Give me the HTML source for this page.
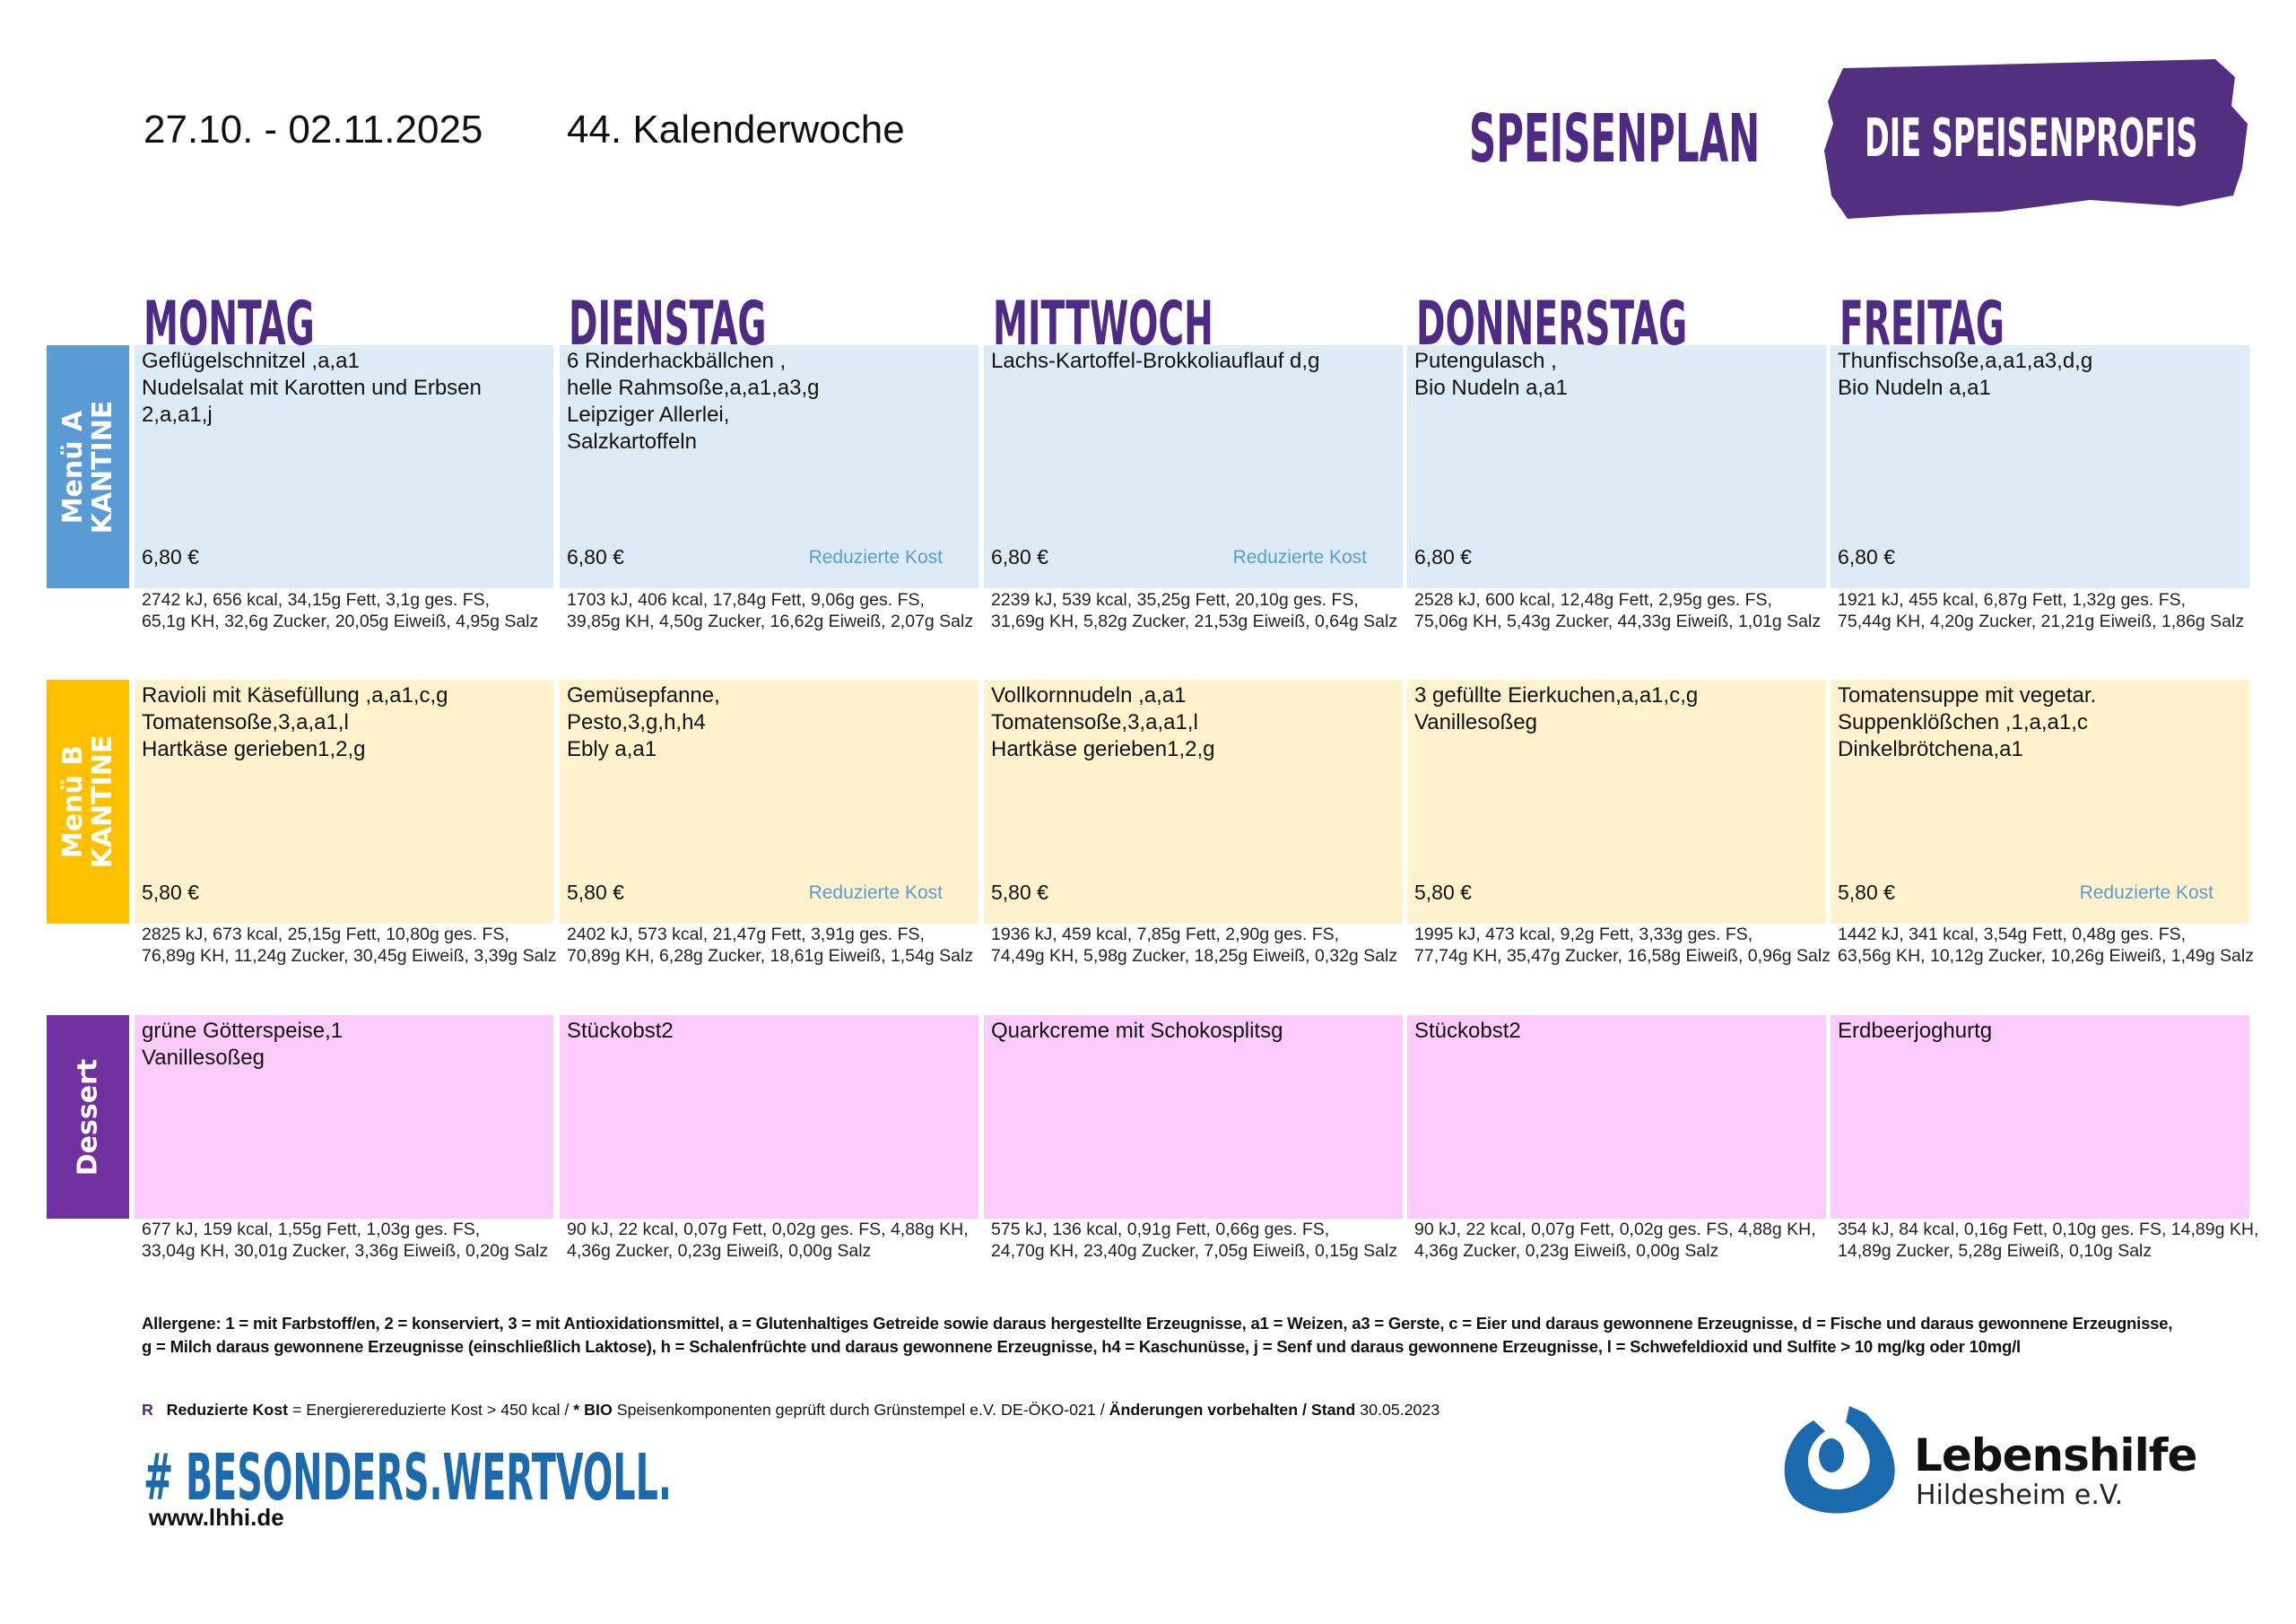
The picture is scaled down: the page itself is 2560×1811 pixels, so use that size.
<!DOCTYPE html>
<html><head><meta charset="utf-8">
<style>
html,body{margin:0;padding:0;background:#fff;}
body{width:2560px;height:1811px;position:relative;overflow:hidden;font-family:"Liberation Sans",Arial,sans-serif;color:#111;}
.abs{position:absolute;}
.heavy{font-family:"DejaVu Sans Condensed","DejaVu Sans",sans-serif;font-weight:bold;transform-origin:left top;white-space:nowrap;line-height:1;}
.cell{position:absolute;box-sizing:border-box;}
.food{position:absolute;left:8px;top:3px;font-size:24px;line-height:30px;white-space:nowrap;}
.price{position:absolute;left:8px;font-size:23px;}
.rk{position:absolute;right:40px;font-size:21px;color:#5b9bd5;}
.nut{position:absolute;font-size:19.5px;line-height:24px;white-space:nowrap;color:#222;}
.lbl{position:absolute;color:#fff;font-weight:bold;font-family:"DejaVu Sans","Liberation Sans",sans-serif;}
.lbl span{position:absolute;left:50%;top:50%;transform:translate(-50%,-50%) rotate(-90deg);white-space:nowrap;text-align:center;line-height:1.1;}
</style></head>
<body>

<div class="abs" style="left:160px;top:120px;font-size:44px;">27.10. - 02.11.2025</div>
<div class="abs" style="left:632px;top:120px;font-size:44px;">44. Kalenderwoche</div>
<div class="abs heavy" style="left:1638px;top:118px;font-size:74px;color:#4e2a84;transform:scaleX(.63);">SPEISENPLAN</div>
<svg class="abs" style="left:2030px;top:58px" width="480" height="200" viewBox="0 0 480 200">
<path d="M25 18 L440 8 L462 28 L458 60 L476 80 L470 130 L460 160 L400 172 L300 165 L200 178 L90 182 L30 186 L12 160 L4 110 L14 80 L8 55 Z" fill="#52307f"/>
</svg>
<div class="abs heavy" style="left:2079px;top:124px;font-size:59px;color:#fff;transform:scaleX(.63);">DIE SPEISENPROFIS</div>

<div id="grid"></div>

<div class="abs" style="left:158px;top:1463px;font-size:18.5px;font-weight:bold;line-height:26px;white-space:nowrap;letter-spacing:-0.2px;">Allergene: 1 = mit Farbstoff/en, 2 = konserviert, 3 = mit Antioxidationsmittel, a = Glutenhaltiges Getreide sowie daraus hergestellte Erzeugnisse, a1 = Weizen, a3 = Gerste, c = Eier und daraus gewonnene Erzeugnisse, d = Fische und daraus gewonnene Erzeugnisse,<br>g = Milch daraus gewonnene Erzeugnisse (einschließlich Laktose), h = Schalenfrüchte und daraus gewonnene Erzeugnisse, h4 = Kaschunüsse, j = Senf und daraus gewonnene Erzeugnisse, l = Schwefeldioxid und Sulfite &gt; 10 mg/kg oder 10mg/l</div>
<div class="abs" style="left:158px;top:1562px;font-size:17.8px;white-space:nowrap;"><b style="color:#4e2a84">R</b>&nbsp;&nbsp; <b>Reduzierte Kost</b> = Energierereduzierte Kost &gt; 450 kcal / <b>* BIO</b> Speisenkomponenten geprüft durch Grünstempel e.V. DE-ÖKO-021 / <b>Änderungen vorbehalten / Stand</b> 30.05.2023</div>

<div class="abs heavy" style="left:160px;top:1612px;font-size:71px;color:#1c6aab;transform:scaleX(.62);"># BESONDERS.WERTVOLL.</div>
<div class="abs" style="left:166px;top:1677px;font-size:26px;font-weight:bold;">www.lhhi.de</div>

<svg class="abs" style="left:1980px;top:1566px" width="140" height="128" viewBox="0 0 140 128">
<path d="M42 18 C10 35 0 80 20 105 C45 130 110 128 130 90 C140 60 120 30 100 10 L82 2 L78 20 C100 35 112 60 100 80 C85 100 50 100 40 80 C30 60 40 40 55 30 Z" fill="#1a6aad"/>
<ellipse cx="62" cy="57" rx="14" ry="19" fill="#1a6aad"/>
</svg>
<div class="abs" style="left:2134px;top:1594px;font-size:50px;font-weight:bold;font-family:'DejaVu Sans','Liberation Sans',sans-serif;letter-spacing:-1px;">Lebenshilfe</div>
<div class="abs" style="left:2136px;top:1650px;font-size:30px;font-family:'DejaVu Sans','Liberation Sans',sans-serif;color:#222;">Hildesheim e.V.</div>

<script>
const days=["MONTAG","DIENSTAG","MITTWOCH","DONNERSTAG","FREITAG"];
const colX=[150,624,1097,1569,2041];
const colW=467;
const rows=[
 {key:"menu-a",label:["Menü A","KANTINE"],top:385,h:271,lbl:"#5b9bd5",bg:"#ddebf7",price:"6,80 €",nutTop:657},
 {key:"menu-b",label:["Menü B","KANTINE"],top:758,h:272,lbl:"#ffc000",bg:"#fff2cc",price:"5,80 €",nutTop:1030},
 {key:"dessert",label:["Dessert"],top:1132,h:227,lbl:"#7030a0",bg:"#fdccfd",price:null,nutTop:1359}
];
const foodA=[["Geflügelschnitzel ,a,a1","Nudelsalat mit Karotten und Erbsen","2,a,a1,j"],["6 Rinderhackbällchen ,","helle Rahmsoße,a,a1,a3,g","Leipziger Allerlei,","Salzkartoffeln"],["Lachs-Kartoffel-Brokkoliauflauf d,g"],["Putengulasch ,","Bio Nudeln a,a1"],["Thunfischsoße,a,a1,a3,d,g","Bio Nudeln a,a1"]];
const foodB=[["Ravioli mit Käsefüllung ,a,a1,c,g","Tomatensoße,3,a,a1,l","Hartkäse gerieben1,2,g"],["Gemüsepfanne,","Pesto,3,g,h,h4","Ebly a,a1"],["Vollkornnudeln ,a,a1","Tomatensoße,3,a,a1,l","Hartkäse gerieben1,2,g"],["3 gefüllte Eierkuchen,a,a1,c,g","Vanillesoßeg"],["Tomatensuppe mit vegetar.","Suppenklößchen ,1,a,a1,c","Dinkelbrötchena,a1"]];
const foodD=[["grüne Götterspeise,1","Vanillesoßeg"],["Stückobst2"],["Quarkcreme mit Schokosplitsg"],["Stückobst2"],["Erdbeerjoghurtg"]];
const rkA=[false,true,true,false,false];
const rkB=[false,true,false,false,true];
const nutA=[["2742 kJ, 656 kcal, 34,15g Fett, 3,1g ges. FS,","65,1g KH, 32,6g Zucker, 20,05g Eiweiß, 4,95g Salz"],["1703 kJ, 406 kcal, 17,84g Fett, 9,06g ges. FS,","39,85g KH, 4,50g Zucker, 16,62g Eiweiß, 2,07g Salz"],["2239 kJ, 539 kcal, 35,25g Fett, 20,10g ges. FS,","31,69g KH, 5,82g Zucker, 21,53g Eiweiß, 0,64g Salz"],["2528 kJ, 600 kcal, 12,48g Fett, 2,95g ges. FS,","75,06g KH, 5,43g Zucker, 44,33g Eiweiß, 1,01g Salz"],["1921 kJ, 455 kcal, 6,87g Fett, 1,32g ges. FS,","75,44g KH, 4,20g Zucker, 21,21g Eiweiß, 1,86g Salz"]];
const nutB=[["2825 kJ, 673 kcal, 25,15g Fett, 10,80g ges. FS,","76,89g KH, 11,24g Zucker, 30,45g Eiweiß, 3,39g Salz"],["2402 kJ, 573 kcal, 21,47g Fett, 3,91g ges. FS,","70,89g KH, 6,28g Zucker, 18,61g Eiweiß, 1,54g Salz"],["1936 kJ, 459 kcal, 7,85g Fett, 2,90g ges. FS,","74,49g KH, 5,98g Zucker, 18,25g Eiweiß, 0,32g Salz"],["1995 kJ, 473 kcal, 9,2g Fett, 3,33g ges. FS,","77,74g KH, 35,47g Zucker, 16,58g Eiweiß, 0,96g Salz"],["1442 kJ, 341 kcal, 3,54g Fett, 0,48g ges. FS,","63,56g KH, 10,12g Zucker, 10,26g Eiweiß, 1,49g Salz"]];
const nutD=[["677 kJ, 159 kcal, 1,55g Fett, 1,03g ges. FS,","33,04g KH, 30,01g Zucker, 3,36g Eiweiß, 0,20g Salz"],["90 kJ, 22 kcal, 0,07g Fett, 0,02g ges. FS, 4,88g KH,","4,36g Zucker, 0,23g Eiweiß, 0,00g Salz"],["575 kJ, 136 kcal, 0,91g Fett, 0,66g ges. FS,","24,70g KH, 23,40g Zucker, 7,05g Eiweiß, 0,15g Salz"],["90 kJ, 22 kcal, 0,07g Fett, 0,02g ges. FS, 4,88g KH,","4,36g Zucker, 0,23g Eiweiß, 0,00g Salz"],["354 kJ, 84 kcal, 0,16g Fett, 0,10g ges. FS, 14,89g KH,","14,89g Zucker, 5,28g Eiweiß, 0,10g Salz"]];
const foods=[foodA,foodB,foodD], rks=[rkA,rkB,null], nuts=[nutA,nutB,nutD];
const g=document.getElementById('grid');
days.forEach((d,i)=>{
  const h=document.createElement('div');
  h.className='abs heavy';
  h.style.cssText=`left:${colX[i]+10}px;top:328px;font-size:68px;color:#4e2a84;transform:scaleX(.64);`;
  h.textContent=d;
  
  
  g.appendChild(h);
});
rows.forEach((r,ri)=>{
  const l=document.createElement('div');
  l.className='lbl';
  l.style.cssText=`left:52px;top:${r.top}px;width:92px;height:${r.h}px;background:${r.lbl};font-size:${r.label.length>1?30:30}px;`;
  l.innerHTML='<span>'+r.label.join('<br>')+'</span>';
  
  
  g.appendChild(l);
  days.forEach((d,i)=>{
    const c=document.createElement('div');
    c.className='cell';
    c.style.cssText=`left:${colX[i]}px;top:${r.top}px;width:${colW}px;height:${r.h}px;background:${r.bg};`;
    
    
    const f=document.createElement('div');
    f.className='food';
    f.innerHTML=foods[ri][i].join('<br>');
    
    
    c.appendChild(f);
    if(r.price){
      const p=document.createElement('div');
      p.className='price';
      p.style.top=(r.h-48)+'px';
      p.textContent=r.price;
      
      
      c.appendChild(p);
      if(rks[ri][i]){
        const k=document.createElement('div');
        k.className='rk';
        k.style.top=(r.h-46)+'px';
        k.textContent='Reduzierte Kost';
        
        
        c.appendChild(k);
      }
    }
    g.appendChild(c);
    const n=document.createElement('div');
    n.className='nut';
    n.style.cssText=`left:${colX[i]+8}px;top:${r.nutTop}px;`;
    n.innerHTML=nuts[ri][i].join('<br>');
    
    
    g.appendChild(n);
  });
});
</script>
</body></html>
